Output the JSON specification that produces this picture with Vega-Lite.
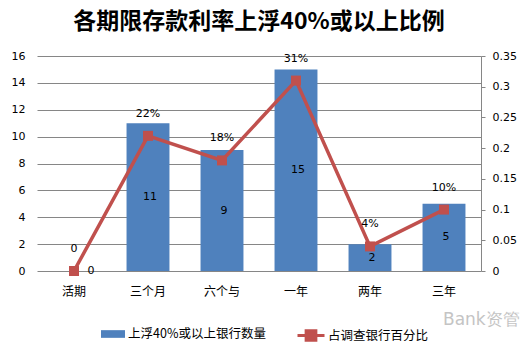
{
  "$schema": "https://vega.github.io/schema/vega-lite/v6.json",
  "autosize": "none",
  "width": 444,
  "height": 215,
  "padding": {"left": 37, "top": 56, "right": 48, "bottom": 73},
  "background": "white",
  "title": {
    "text": "各期限存款利率上浮40%或以上比例",
    "font": "Noto Sans CJK SC",
    "fontSize": 23,
    "fontWeight": "bold",
    "color": "#000000",
    "anchor": "middle",
    "offset": 16
  },
  "config": {
    "view": {"stroke": null},
    "axis": {"labelFont": "DejaVu Sans", "labelFontSize": 11, "labelColor": "#000000", "titleFontSize": 0},
    "legend": {"labelFont": "Noto Sans CJK SC", "labelFontSize": 12.5, "labelColor": "#000000"}
  },
  "data": {
    "values": [
      {"term": "活期", "count": 0, "pct": 0, "pctLabel": "0"},
      {"term": "三个月", "count": 11, "pct": 0.22, "pctLabel": "22%"},
      {"term": "六个与", "count": 9, "pct": 0.18, "pctLabel": "18%"},
      {"term": "一年", "count": 15, "pct": 0.31, "pctLabel": "31%"},
      {"term": "两年", "count": 2, "pct": 0.04, "pctLabel": "4%"},
      {"term": "三年", "count": 5, "pct": 0.10, "pctLabel": "10%"}
    ]
  },
  "encoding": {
    "x": {
      "field": "term",
      "type": "nominal",
      "sort": null,
      "scale": {"paddingInner": 0.42, "paddingOuter": 0.21},
      "axis": {
        "title": null,
        "labelAngle": 0,
        "ticks": false,
        "domain": false,
        "labelPadding": 15,
        "labelFont": "Noto Sans CJK SC",
        "labelFontSize": 12
      }
    }
  },
  "layer": [
    {
      "encoding": {
        "y": {
          "type": "quantitative",
          "scale": {"domain": [0, 16]},
          "axis": {
            "title": null,
            "values": [0, 2, 4, 6, 8, 10, 12, 14, 16],
            "domain": false,
            "ticks": false,
            "labelPadding": 12,
            "grid": true,
            "gridColor": "#868686",
            "gridWidth": 1
          }
        }
      },
      "layer": [
        {
          "mark": {"type": "bar", "color": "#4F81BD"},
          "encoding": {
            "y": {"field": "count"},
            "fill": {"datum": "上浮40%或以上银行数量", "type": "nominal",
              "scale": {"range": ["#4F81BD"]},
              "legend": {
                "orient": "none", "legendX": 64, "legendY": 266, "title": null,
                "symbolType": "M-1,-0.32L1,-0.32L1,0.32L-1,0.32Z",
                "symbolSize": 576, "symbolStrokeWidth": 0, "labelOffset": 3
              }
            }
          }
        },
        {
          "transform": [{"filter": "datum.count > 0"}, {"calculate": "datum.count / 2", "as": "mid"}],
          "mark": {"type": "text", "font": "DejaVu Sans", "fontSize": 11, "color": "#000000", "dx": 2},
          "encoding": {"y": {"field": "mid"}, "text": {"field": "count"}}
        },
        {
          "transform": [{"filter": "datum.count == 0"}],
          "mark": {"type": "text", "font": "DejaVu Sans", "fontSize": 11, "color": "#000000", "dx": 17},
          "encoding": {"y": {"field": "count"}, "text": {"field": "count"}}
        },
        {
          "data": {"values": [{"w": "Bank资管"}]},
          "mark": {"type": "text", "font": "DejaVu Sans", "fontSize": 17, "color": "#c4c4c4", "align": "left", "dx": -1},
          "encoding": {
            "x": {"datum": "三年"},
            "y": {"datum": -3.65},
            "text": {"field": "w"}
          }
        }
      ]
    },
    {
      "encoding": {
        "y": {
          "field": "pct",
          "type": "quantitative",
          "scale": {"domain": [0, 0.35]},
          "axis": {
            "orient": "right",
            "title": null,
            "values": [0, 0.05, 0.1, 0.15, 0.2, 0.25, 0.3, 0.35],
            "format": "~g",
            "domain": true,
            "domainColor": "#868686",
            "ticks": true,
            "tickColor": "#868686",
            "tickSize": 4,
            "labelPadding": 7,
            "grid": false
          }
        }
      },
      "layer": [
        {
          "mark": {"type": "line", "color": "#C0504D", "strokeWidth": 3.5},
          "encoding": {
            "stroke": {"datum": "占调查银行百分比", "type": "nominal",
              "scale": {"range": ["#C0504D"]},
              "legend": {
                "orient": "none", "legendX": 259, "legendY": 264.5, "title": null,
                "symbolType": "M-1,0L1,0M-0.36,-0.36L0.36,-0.36L0.36,0.36L-0.36,0.36Z",
                "symbolSize": 729, "symbolStrokeWidth": 3, "symbolFillColor": "#C0504D",
                "labelOffset": 2
              }
            }
          }
        },
        {
          "mark": {"type": "square", "color": "#C0504D", "size": 100, "opacity": 1, "filled": true}
        },
        {
          "mark": {"type": "text", "font": "DejaVu Sans", "fontSize": 11, "color": "#000000", "dy": -22},
          "encoding": {"text": {"field": "pctLabel"}}
        }
      ]
    }
  ],
  "resolve": {"scale": {"y": "independent"}}
}
